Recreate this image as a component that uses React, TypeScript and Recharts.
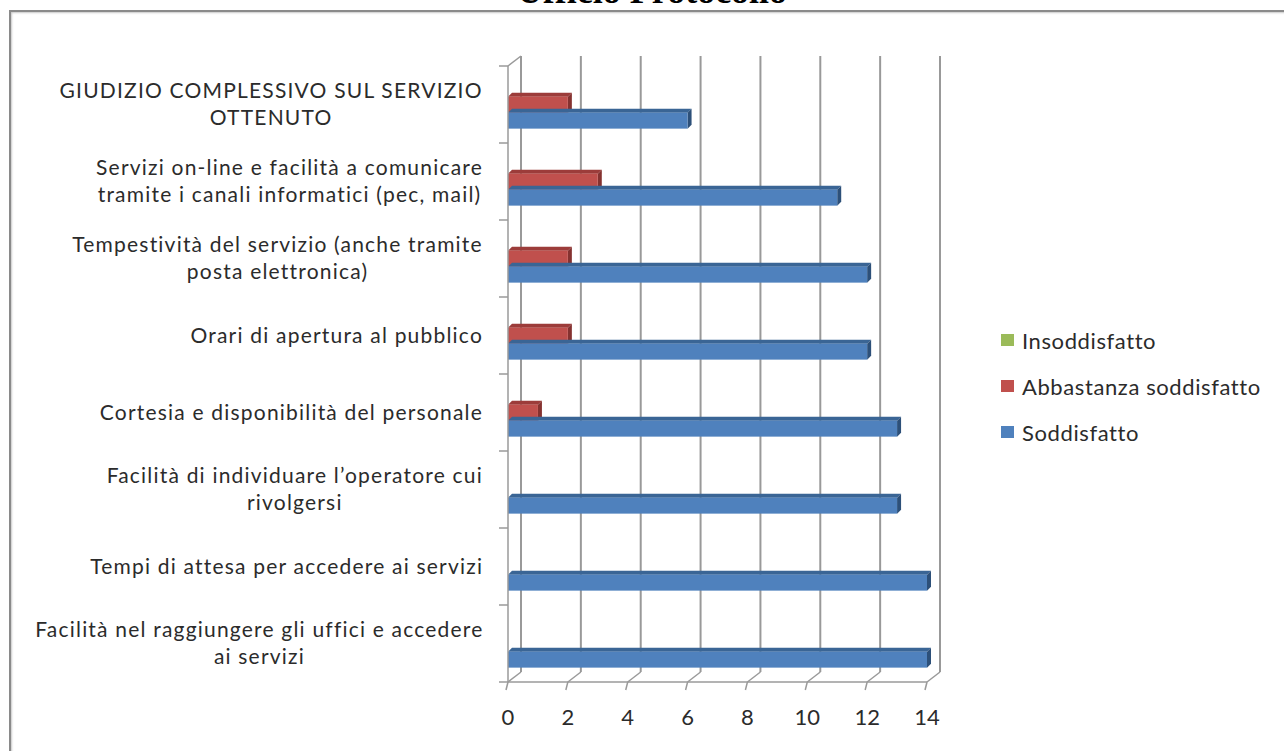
import React from 'react';
import { BarChart, Bar, XAxis, YAxis, CartesianGrid, Legend } from 'recharts';

const categories = [
  'GIUDIZIO COMPLESSIVO SUL SERVIZIO\nOTTENUTO',
  'Servizi on-line e facilità a comunicare\ntramite i canali informatici (pec, mail)',
  'Tempestività del servizio (anche tramite\nposta elettronica)',
  'Orari di apertura al pubblico',
  'Cortesia e disponibilità del personale',
  'Facilità di individuare l’operatore cui\nrivolgersi',
  'Tempi di attesa per accedere ai servizi',
  'Facilità nel raggiungere gli uffici e accedere\nai servizi',
];
const soddisfatto = [6, 11, 12, 12, 13, 13, 14, 14];
const abbastanza = [2, 3, 2, 2, 1, 0, 0, 0];
const insoddisfatto = [0, 0, 0, 0, 0, 0, 0, 0];
const xTicks = [0, 2, 4, 6, 8, 10, 12, 14];
const seriesNames = ['Insoddisfatto', 'Abbastanza soddisfatto', 'Soddisfatto'];

const data = categories.map((c, i) => ({
  category: c,
  insoddisfatto: insoddisfatto[i],
  abbastanza: abbastanza[i],
  soddisfatto: soddisfatto[i],
}));

const W = 1284;
const H = 751;
const FONT = 'Lato, "Noto Sans", sans-serif';
const LABEL_SIZE = 21;
const LABEL_LS = 1.2;
const LINE_H = 27;
const DEPTH_X = 13;
const DEPTH_Y = 10;
const AXIS_GRAY = '#9a9a9a';
const TEXT = '#2b2b2b';

// front plane: 508..927 x 66..682
const front = { top: 66, right: 357, bottom: 19, left: 0 };
const PLOT_H = H - front.top - front.bottom - 50;
const BAND = PLOT_H / categories.length;

const faces: Record<string, { top: string; side: string }> = {
  '#4F81BD': { top: '#3A6595', side: '#2D5079' },
  '#C0504D': { top: '#9C3C3A', side: '#853230' },
  '#9BBB59': { top: '#7E9C43', side: '#6A8638' },
};

let ctx: CanvasRenderingContext2D | null = null;
function textWidth(s: string) {
  if (!ctx) ctx = document.createElement('canvas').getContext('2d');
  if (!ctx) return s.length * 10;
  ctx.font = `${LABEL_SIZE}px ${FONT}`;
  return ctx.measureText(s).width + s.length * LABEL_LS;
}

const Bar3D = (props: any) => {
  const { x, y, width, height, fill } = props;
  if (!width || width <= 0.5) return null;
  const d = 4;
  const f = faces[fill] || { top: fill, side: fill };
  return (
    <g>
      <polygon
        points={`${x},${y} ${x + d},${y - d} ${x + width + d},${y - d} ${x + width},${y}`}
        fill={f.top}
      />
      <polygon
        points={`${x + width},${y} ${x + width + d},${y - d} ${x + width + d},${y + height - d} ${x + width},${y + height}`}
        fill={f.side}
      />
      <rect x={x} y={y} width={width} height={height} fill={fill} />
    </g>
  );
};

const CategoryTick = (props: any) => {
  const { x, y, payload, index } = props;
  const lines = String(payload.value).split('\n');
  const blockW = Math.max(...lines.map(textWidth));
  const cx = x - blockW / 2;
  const first = -((lines.length - 1) * LINE_H) / 2;
  const axisX = x + 25;
  const yTop = y - BAND / 2;
  return (
    <g>
      <line x1={axisX - 9} y1={yTop} x2={axisX} y2={yTop} stroke={AXIS_GRAY} strokeWidth={1.5} />
      {index === categories.length - 1 && (
        <line x1={axisX - 9} y1={y + BAND / 2} x2={axisX} y2={y + BAND / 2} stroke={AXIS_GRAY} strokeWidth={1.5} />
      )}
      {index === 0 && (
        <line x1={axisX} y1={yTop} x2={axisX + DEPTH_X} y2={yTop - DEPTH_Y} stroke={AXIS_GRAY} strokeWidth={1.5} />
      )}
      <text
        x={cx}
        y={y}
        textAnchor="middle"
        fontFamily={FONT}
        fontSize={LABEL_SIZE}
        letterSpacing={LABEL_LS}
        fill={TEXT}
      >
        {lines.map((l, i) => (
          <tspan key={i} x={cx} dy={i === 0 ? first + 7 : LINE_H}>
            {l}
          </tspan>
        ))}
      </text>
    </g>
  );
};

const ValueTick = (props: any) => {
  const { x, y, payload } = props;
  return (
    <g>
      <line x1={x - 2} y1={y + 8} x2={x} y2={y} stroke={AXIS_GRAY} strokeWidth={1.5} />
      <line x1={x} y1={y} x2={x + DEPTH_X} y2={y - DEPTH_Y} stroke={AXIS_GRAY} strokeWidth={1.5} />
      <text x={x} y={y + 43} textAnchor="middle" fontFamily={FONT} fontSize={22} fill={TEXT}>
        {payload.value}
      </text>
    </g>
  );
};

const renderLegend = (props: any) => {
  const items = [...(props.payload || [])].sort(
    (a: any, b: any) => seriesNames.indexOf(a.value) - seriesNames.indexOf(b.value)
  );
  return (
    <div style={{ fontFamily: FONT, fontSize: 22, letterSpacing: 0.6, color: TEXT }}>
      {items.map((p: any) => (
        <div key={p.value} style={{ display: 'flex', alignItems: 'center', height: 46 }}>
          <span style={{ width: 13, height: 12, background: p.color, marginRight: 8, display: 'inline-block' }} />
          <span>{p.value}</span>
        </div>
      ))}
    </div>
  );
};

export default function App() {
  return (
    <div style={{ position: 'fixed', left: 0, top: 0, width: W, height: H, overflow: 'hidden', background: '#fff' }}>
      <svg width={W} height={20} style={{ position: 'absolute', left: 0, top: 0 }}>
        <text x={652} y={3} textAnchor="middle" fontFamily='"Liberation Serif", serif' fontWeight="bold" fontSize={36} fill="#000">
          Ufficio Protocollo
        </text>
      </svg>
      <div
        style={{
          position: 'absolute',
          left: 9,
          top: 10,
          width: W,
          height: H,
          borderTop: '2px solid #8a8a8a',
          borderLeft: '2px solid #8a8a8a',
          boxShadow: 'inset 1px 1px 2px #c8c8c8',
        }}
      />
      {/* back wall grid */}
      <div style={{ position: 'absolute', left: 0, top: 0 }}>
        <BarChart
          width={W}
          height={H}
          data={data}
          layout="vertical"
          margin={{ top: front.top - DEPTH_Y, right: front.right - DEPTH_X, bottom: front.bottom + 50 + DEPTH_Y, left: DEPTH_X + 508 }}
        >
          <CartesianGrid horizontal={false} stroke="#999999" strokeWidth={2} />
          <XAxis type="number" domain={[0, 14]} ticks={xTicks} hide />
          <YAxis type="category" dataKey="category" hide />
          <Bar dataKey="soddisfatto" fill="transparent" isAnimationActive={false} />
        </BarChart>
      </div>
      {/* bars and axes */}
      <div style={{ position: 'absolute', left: 0, top: 0 }}>
        <BarChart
          width={W}
          height={H}
          data={data}
          layout="vertical"
          margin={front}
          barCategoryGap="19%"
          barGap={0}
        >
          <XAxis
            type="number"
            domain={[0, 14]}
            ticks={xTicks}
            height={50}
            stroke={AXIS_GRAY}
            strokeWidth={1.5}
            tickLine={false}
            tickSize={0}
            tickMargin={0}
            tick={<ValueTick />}
          />
          <YAxis
            type="category"
            dataKey="category"
            width={508}
            stroke={AXIS_GRAY}
            strokeWidth={1.5}
            tickLine={false}
            tickSize={0}
            tickMargin={25}
            interval={0}
            tick={<CategoryTick />}
          />
          <Legend
            layout="horizontal"
            align="center"
            verticalAlign="middle"
            content={renderLegend}
            wrapperStyle={{ left: 1001, top: 317, width: 283 }}
          />
          <Bar dataKey="insoddisfatto" name={seriesNames[0]} fill="#9BBB59" shape={<Bar3D />} isAnimationActive={false} />
          <Bar dataKey="abbastanza" name={seriesNames[1]} fill="#C0504D" shape={<Bar3D />} isAnimationActive={false} />
          <Bar dataKey="soddisfatto" name={seriesNames[2]} fill="#4F81BD" shape={<Bar3D />} isAnimationActive={false} />
        </BarChart>
      </div>
    </div>
  );
}
